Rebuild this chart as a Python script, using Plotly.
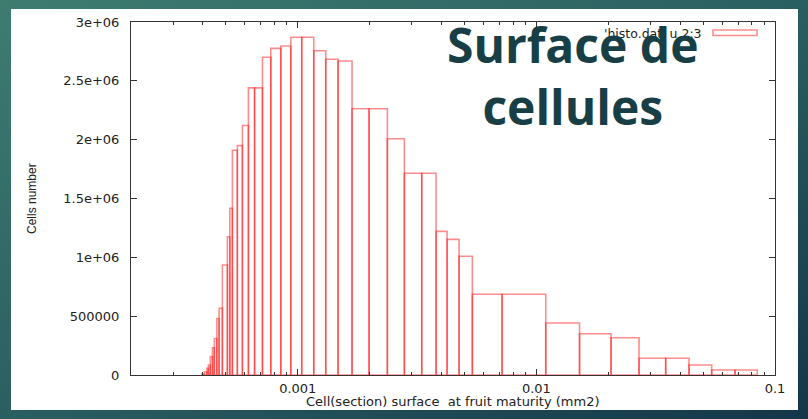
import base64
import plotly.graph_objects as go

# Histogram of cell (section) surfaces at fruit maturity, gnuplot-style boxes on a log axis.
# Bin edges (mm2) and cell counts per bin.
bin_edges = [
    0.000396, 0.000406, 0.000416, 0.000422, 0.000430, 0.000439, 0.000447, 0.000458,
    0.000468, 0.000483, 0.000507, 0.000519, 0.000532, 0.000558, 0.000586, 0.000621,
    0.000659, 0.000711, 0.000771, 0.000849, 0.000935, 0.001039, 0.001167, 0.001310,
    0.001475, 0.001688, 0.001989, 0.002374, 0.002797, 0.003308, 0.003798, 0.004224,
    0.004742, 0.005390, 0.007180, 0.010945, 0.015163, 0.02055, 0.02692, 0.03483,
    0.04361, 0.05429, 0.06800, 0.08431,
]
cell_counts = [
    8000, 28000, 57000, 85000, 156000, 232000, 310000, 480000,
    567000, 935000, 1175000, 1417000, 1910000, 1949000, 2120000, 2440000,
    2440000, 2700000, 2776000, 2796000, 2870000, 2870000, 2756000, 2683000,
    2669000, 2263000, 2263000, 2008000, 1714000, 1714000, 1221000, 1153000,
    1009000, 686000, 686000, 442000, 351000, 317000, 142000, 142000,
    85000, 42500, 42500,
]

x_tick_vals = [0.001, 0.01, 0.1]
x_tick_text = ["0.001", "0.01", "0.1"]
y_tick_vals = [0, 500000, 1000000, 1500000, 2000000, 2500000, 3000000]
y_tick_text = ["0", "500000", "1e+06", "1.5e+06", "2e+06", "2.5e+06", "3e+06"]
x_minor_vals = [m * 10.0 ** e for e in (-4, -3, -2) for m in range(2, 10)]

BOX_COLOR = "rgba(255,0,0,0.45)"
AXIS_COLOR = "#333333"
TICK_FONT = dict(family="DejaVu Sans", size=13, color="#222222")

fig = go.Figure()

# one outlined box per bin, so shared edges overlap like gnuplot's boxes
for left, right, count in zip(bin_edges[:-1], bin_edges[1:], cell_counts):
    fig.add_trace(go.Scatter(
        x=[left, left, right, right, left],
        y=[0, count, count, 0, 0],
        mode="lines",
        line=dict(color=BOX_COLOR, width=1.6),
        hoverinfo="skip",
        showlegend=False,
    ))

# slide background: diagonal teal gradient
svg_bg = (
    '<svg xmlns="http://www.w3.org/2000/svg" width="808" height="419">'
    '<defs><linearGradient id="g" x1="0" y1="0" x2="1" y2="1">'
    '<stop offset="0" stop-color="#3e7c70"/>'
    '<stop offset="0.5" stop-color="#2a5f61"/>'
    '<stop offset="1" stop-color="#143649"/>'
    '</linearGradient></defs>'
    '<rect width="808" height="419" fill="url(#g)"/></svg>'
)
bg_src = "data:image/svg+xml;base64," + base64.b64encode(svg_bg.encode()).decode()

L, R, T, B = 131, 33, 22, 44
W, H = 808, 419
PW, PH = W - L - R, H - T - B


def px(x):
    return (x - L) / PW


def py(y):
    return (H - B - y) / PH


fig.update_layout(
    width=W, height=H,
    margin=dict(l=L, r=R, t=T, b=B),
    paper_bgcolor="#2a5f61",
    plot_bgcolor="white",
    showlegend=False,
    images=[dict(
        source=bg_src, xref="paper", yref="paper",
        x=px(0), y=py(0), sizex=W / PW, sizey=H / PH,
        xanchor="left", yanchor="top", sizing="stretch", layer="below",
    )],
    shapes=[
        # white chart panel
        dict(type="rect", xref="paper", yref="paper", layer="below",
             x0=px(11), x1=px(798), y0=py(410), y1=py(9),
             fillcolor="white", line=dict(width=0)),
        # legend sample box
        dict(type="rect", xref="paper", yref="paper",
             x0=px(713), x1=px(757), y0=py(35.5), y1=py(30),
             fillcolor="rgba(0,0,0,0)", line=dict(color=BOX_COLOR, width=1.6)),
    ],
    xaxis=dict(
        type="log", range=[-3.69897, -1],
        tickmode="array", tickvals=x_tick_vals, ticktext=x_tick_text,
        ticks="inside", ticklen=6, tickcolor=AXIS_COLOR,
        minor=dict(tickmode="array", tickvals=x_minor_vals, ticks="inside",
                   ticklen=3, tickcolor=AXIS_COLOR),
        showline=True, linecolor=AXIS_COLOR, linewidth=1, mirror="ticks",
        showgrid=False, zeroline=False, tickfont=TICK_FONT, ticklabelstandoff=1,
    ),
    yaxis=dict(
        range=[0, 3000000],
        tickmode="array", tickvals=y_tick_vals, ticktext=y_tick_text,
        ticks="inside", ticklen=6, tickcolor=AXIS_COLOR,
        showline=True, linecolor=AXIS_COLOR, linewidth=1, mirror="ticks",
        showgrid=False, zeroline=False, tickfont=TICK_FONT, ticklabelstandoff=8,
    ),
    annotations=[
        dict(text="Cell(section) surface  at fruit maturity (mm2)",
             xref="paper", yref="paper", x=px(453), y=py(402),
             xanchor="center", yanchor="middle", showarrow=False,
             font=dict(family="DejaVu Sans", size=13, color="#222222")),
        dict(text="Cells number", textangle=-90,
             xref="paper", yref="paper", x=px(32), y=py(198),
             xanchor="center", yanchor="middle", showarrow=False,
             font=dict(family="Liberation Sans", size=12, color="#222222")),
        dict(text="'histo.dat' u 2:3",
             xref="paper", yref="paper", x=px(704), y=py(33),
             xanchor="right", yanchor="middle", showarrow=False,
             font=dict(family="DejaVu Sans", size=12.5, color="#222222")),
        dict(text="<b>Surface de<br>cellules</b>",
             xref="paper", yref="paper", x=px(572.5), y=py(75),
             xanchor="center", yanchor="middle", showarrow=False,
             font=dict(family="Open Sans", size=48, color="#173f45")),
    ],
)

fig.write_html("out.html")
